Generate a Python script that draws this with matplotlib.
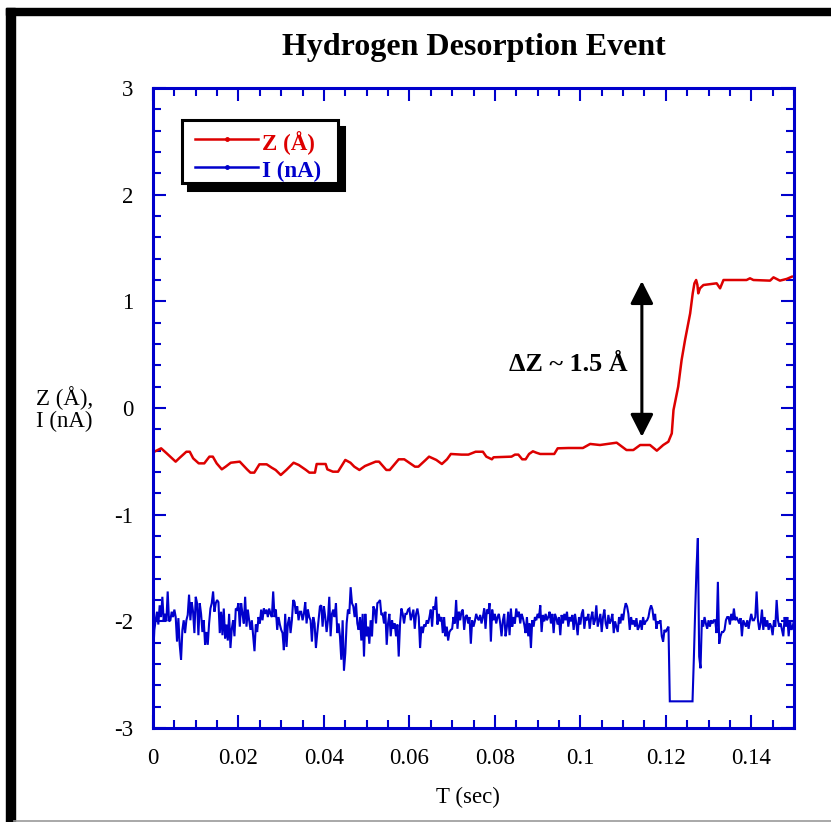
import matplotlib
matplotlib.use("Agg")
import matplotlib.pyplot as plt
import numpy as np
from matplotlib.lines import Line2D
from matplotlib.patches import Rectangle
from matplotlib.ticker import MultipleLocator, FuncFormatter

plt.rcParams["font.family"] = ["Liberation Serif", "DejaVu Serif"]
plt.rcParams["axes.unicode_minus"] = False

BLUE = "#0000CC"
RED = "#DD0000"

title = "Hydrogen Desorption Event"
x_label = "T (sec)"
y_label = "Z (\u00c5),\nI (nA)"
series_names = ["Z (\u00c5)", "I (nA)"]
series_colors = [RED, BLUE]
delta_label = "\u0394Z ~ 1.5 \u00c5"

# tip height Z (Angstrom)
z_t = [0.0003, 0.0019, 0.0032, 0.0053, 0.0061, 0.0078, 0.0086, 0.0094, 0.0107, 0.0120,
       0.0132, 0.0140, 0.0149, 0.0161, 0.0170, 0.0182, 0.0203, 0.0220, 0.0228, 0.0237,
       0.0249, 0.0266, 0.0278, 0.0287, 0.0299, 0.0312, 0.0329, 0.0341, 0.0358, 0.0366,
       0.0379, 0.0383, 0.0404, 0.0408, 0.0421, 0.0433, 0.0450, 0.0462, 0.0471, 0.0483,
       0.0496, 0.0521, 0.0529, 0.0546, 0.0554, 0.0575, 0.0588, 0.0613, 0.0621, 0.0638,
       0.0646, 0.0663, 0.0676, 0.0688, 0.0697, 0.0722, 0.0738, 0.0755, 0.0772, 0.0780,
       0.0793, 0.0797, 0.0839, 0.0847, 0.0855, 0.0864, 0.0872, 0.0880, 0.0889, 0.0897,
       0.0906, 0.0939, 0.0947, 0.0972, 0.1006, 0.1023, 0.1039,
       0.1046, 0.1085, 0.1108, 0.1124, 0.1140, 0.1163, 0.1179, 0.1194, 0.1206, 0.1214,
       0.1218, 0.1229, 0.1237, 0.1245, 0.1257, 0.1263, 0.1267, 0.1271, 0.1274, 0.1276,
       0.1280, 0.1288, 0.1319, 0.1327, 0.1335, 0.1389, 0.1397, 0.1405, 0.1444, 0.1452,
       0.1467, 0.1483, 0.1495]
z_vals = [-0.41, -0.378, -0.425, -0.503, -0.472, -0.41, -0.41, -0.472, -0.519, -0.519,
          -0.456, -0.456, -0.519, -0.575, -0.55, -0.513, -0.503, -0.575, -0.606, -0.606,
          -0.528, -0.528, -0.56, -0.581, -0.628, -0.581, -0.513, -0.534, -0.581, -0.606,
          -0.606, -0.525, -0.525, -0.575, -0.597, -0.597, -0.487, -0.513, -0.55, -0.581,
          -0.544, -0.503, -0.503, -0.581, -0.581, -0.481, -0.481, -0.55, -0.55, -0.487,
          -0.456, -0.487, -0.525, -0.481, -0.431, -0.437, -0.437, -0.41, -0.41, -0.456,
          -0.481, -0.462, -0.456, -0.437, -0.437, -0.481, -0.481, -0.431, -0.406, -0.419,
          -0.431, -0.431, -0.378, -0.375, -0.375, -0.337, -0.344,
          -0.347, -0.325, -0.394, -0.394, -0.347, -0.347, -0.400, -0.347, -0.316, -0.238,
          -0.019, 0.200, 0.450, 0.637, 0.887, 1.075, 1.169, 1.200, 1.153, 1.075,
          1.122, 1.153, 1.169, 1.122, 1.200, 1.200, 1.216, 1.200, 1.194, 1.225,
          1.194, 1.210, 1.231]

# tunnel current I (nA), one reading every 0.3125 ms
i_dt = 0.0003125
i_vals = [
    -2.35, -2.08, -1.99, -1.91, -2.03, -1.85, -1.96, -1.77, -1.99, -1.93,
    -2.00, -1.72, -2.00, -1.99, -1.91, -1.96, -1.89, -1.96, -2.19, -1.97,
    -2.22, -2.36, -2.08, -1.99, -2.11, -1.99, -1.94, -1.75, -1.99, -1.82,
    -1.91, -2.11, -1.77, -1.83, -2.13, -1.83, -1.93, -2.10, -1.99, -2.22,
    -2.10, -2.22, -2.02, -1.88, -1.83, -1.72, -1.91, -1.83, -1.80, -1.82,
    -2.11, -1.91, -2.13, -1.88, -2.16, -2.03, -2.18, -1.93, -2.25, -2.07,
    -1.99, -2.14, -1.88, -1.89, -1.83, -2.05, -1.83, -1.93, -2.02, -1.77,
    -2.05, -1.89, -1.99, -2.08, -1.99, -2.13, -2.28, -2.03, -2.10, -1.96,
    -2.02, -1.89, -1.99, -1.88, -1.93, -1.89, -1.96, -1.88, -1.93, -1.96,
    -1.72, -1.96, -1.89, -2.08, -1.96, -2.03, -2.08, -2.11, -2.27, -1.93,
    -2.24, -2.02, -1.96, -2.11, -1.99, -1.80, -1.82, -1.93, -1.86, -1.99,
    -1.91, -1.91, -1.99, -1.93, -1.82, -2.02, -1.89, -1.96, -1.99, -2.19,
    # 0.0375 s ->
    -1.96, -2.02, -2.25, -2.11, -1.99, -1.86, -1.85, -2.05, -1.86, -1.96,
    -2.10, -1.99,
    -1.77, -2.14, -1.93, -1.89, -1.96, -1.83, -2.11, -2.02, -2.14, -2.36,
    -1.99, -2.46, -2.30, -2.02, -1.89, -1.93, -1.68, -1.83, -1.86, -1.96,
    -1.83, -2.02, -2.08, -1.96, -2.18, -1.93, -2.33, -1.93, -2.14, -2.05,
    -2.21, -1.99, -2.14, -1.86, -1.89, -2.02, -1.83, -1.82, -1.80, -1.94,
    -1.93, -2.02, -1.91, -2.22, -2.02, -1.93, -2.14, -1.99, -2.07, -2.02,
    -2.14, -2.03, -2.33, -2.02, -1.88, -1.93, -2.02, -1.93, -1.93, -1.89,
    -1.88, -1.99, -1.94, -1.89, -2.07, -1.93, -1.88, -1.96, -2.25, -2.05,
    -2.11, -2.03, -2.05, -1.99, -2.02, -1.96, -1.89, -2.05, -1.86, -1.89,
    -1.77, -2.03, -1.93, -2.00, -1.96, -2.11, -1.96, -2.14, -2.05, -2.18,
    -2.10, -2.08, -2.07, -1.96, -2.02, -1.80, -2.07, -1.91, -1.99, -1.91,
    -1.89, -2.08, -1.96, -1.94, -2.02, -1.96, -2.21, -1.99, -2.05, -2.00,
    # 0.0756 s ->
    -1.93, -1.97, -1.99, -1.94, -2.02, -1.96, -1.88, -2.07, -1.89, -1.93,
    -1.83, -2.19, -1.89, -1.99, -1.93, -2.02, -1.96, -1.93, -2.02, -2.14,
    -1.99, -1.93, -2.14, -2.05, -1.91, -2.13, -1.88, -2.05, -1.96, -2.02,
    -1.88, -1.96, -1.91, -2.02, -1.93, -1.97, -2.03, -2.11, -1.96, -2.14,
    -2.02, -2.25, -1.99, -2.05, -1.96, -1.99, -1.93, -1.97, -1.85, -2.10,
    -1.94, -2.00, -1.93, -1.99, -1.96, -1.91, -2.02, -1.93, -2.11, -1.93,
    -1.97, -2.03, -1.96, -2.13, -1.94, -2.02, -1.93, -1.99, -1.91, -2.05,
    -1.96, -2.00, -1.94, -2.08, -1.93, -2.02, -2.13, -1.96, -2.03, -1.93,
    -1.89, -2.07, -1.96, -1.99, -1.93, -2.07, -1.97, -1.91, -2.03, -1.99,
    -1.85, -2.05, -1.99, -1.93, -2.10, -1.96, -1.89, -2.02, -2.07, -1.94,
    -2.02, -1.99, -1.93, -2.11, -2.00, -2.05, -2.10, -1.96, -2.02, -1.93,
    -1.99, -1.89, -1.83, -1.86, -1.93, -2.08, -1.96, -2.03, -1.99,
    # 0.1128 s ->
    -2.05, -1.97, -2.08, -2.05, -1.99, -2.08, -1.96, -2.03, -2.00, -1.99,
    -1.96, -1.89, -1.85, -1.89, -1.99, -1.93, -2.07, -2.00, -2.02, -1.99,
    -2.14, -2.19, -2.08, -2.10, -2.07, -2.05,
    # saturated while the tip retracts
    -2.75, -2.75, -2.75, -2.75, -2.75, -2.75, -2.75, -2.75, -2.75, -2.75,
    -2.75, -2.75, -2.75, -2.75, -2.75, -2.75, -2.75, -2.75,
    -2.35, -1.90, -1.50, -1.22, -2.33, -2.44, -1.99, -2.05,
    -1.96, -2.02, -2.07, -1.99, -2.05, -1.99, -2.02, -1.99, -1.99, -2.11,
    -1.63, -2.21, -2.14, -2.10, -2.10, -2.08, -1.99, -1.96, -1.96, -2.03,
    -1.93, -1.99, -1.88, -1.99, -1.96, -1.99, -2.02, -1.97, -2.14, -1.99,
    -2.02, -2.05, -1.99, -2.07, -1.99, -1.93, -1.99, -1.99, -1.96, -1.72,
    -1.99, -2.08, -2.02, -1.89, -2.08, -1.96, -2.05, -1.99, -2.08, -2.02,
    -2.05, -2.13, -1.99, -2.05, -1.80, -1.99, -2.05, -2.02, -2.08, -2.14,
    -1.96, -2.05, -1.96, -2.14, -1.99, -2.08, -2.05, -1.99,
]
i_t = np.arange(len(i_vals)) * i_dt

arrow_t = 0.1144
arrow_span = (-0.27, 1.19)

W, H = 831, 822
fig = plt.figure(figsize=(W / 100, H / 100), dpi=100)
ax = fig.add_axes([153 / W, 1 - 728 / H, 641 / W, 640 / H])

ax.plot(i_t, i_vals, color=BLUE, lw=1.5, solid_joinstyle="miter")
ax.plot(z_t, z_vals, color=RED, lw=1.8)

ax.set_xlim(0, 0.15)
ax.set_ylim(-3, 3)
ax.xaxis.set_major_locator(MultipleLocator(0.02))
ax.xaxis.set_minor_locator(MultipleLocator(0.005))
ax.yaxis.set_major_locator(MultipleLocator(1))
ax.yaxis.set_minor_locator(MultipleLocator(0.2))
fmt = FuncFormatter(lambda v, p: f"{v:g}")
ax.xaxis.set_major_formatter(fmt)
ax.yaxis.set_major_formatter(fmt)

ax.tick_params(which="both", direction="in", top=True, right=True,
               color=BLUE, width=1.5, labelsize=16.5)
ax.tick_params(axis="x", pad=14.5)
ax.tick_params(axis="y", pad=14)
ax.tick_params(which="major", length=9.4)
ax.tick_params(which="minor", length=5.5)
for sp in ax.spines.values():
    sp.set_color(BLUE)
    sp.set_linewidth(2.2)

# double arrow marking the jump in Z
ax.annotate("", xy=(arrow_t, arrow_span[1]), xytext=(arrow_t, arrow_span[0]),
            arrowprops=dict(arrowstyle="<|-|>,head_length=0.55,head_width=0.28",
                            mutation_scale=25, lw=2.2, color="black",
                            shrinkA=0, shrinkB=0))
ax.text(0.0971, 0.41, delta_label, ha="center", va="center",
        fontsize=18.8, fontweight="bold")


# legend box with a hard black drop shadow, drawn in axes fraction
def ax_px(px, py):
    return (px - 153) / 641, 1 - (py - 88) / 640


bx0, by0 = ax_px(182, 183)
bx1, by1 = ax_px(338, 120)
sx, sy = ax_px(188, 190)
ax.add_patch(Rectangle((sx, sy), bx1 - bx0, by1 - by0, transform=ax.transAxes,
                       facecolor="black", edgecolor="black", lw=2.2, zorder=5,
                       clip_on=False))
ax.add_patch(Rectangle((bx0, by0), bx1 - bx0, by1 - by0, transform=ax.transAxes,
                       facecolor="white", edgecolor="black", lw=2.2, zorder=6,
                       clip_on=False))
for k, (name, col) in enumerate(zip(series_names, series_colors)):
    x0, ly = ax_px(195, 139 + 28 * k)
    x1, _ = ax_px(258, 139)
    xm, _ = ax_px(227, 139)
    tx, ty = ax_px(262, 150 + 27 * k)
    ax.plot([x0, x1], [ly, ly], color=col, lw=1.8, transform=ax.transAxes,
            zorder=7, clip_on=False)
    ax.plot([xm], [ly], "o", color=col, ms=2.5, transform=ax.transAxes,
            zorder=7, clip_on=False)
    ax.text(tx, ty, name, color=col, fontsize=16.5, fontweight="bold",
            ha="left", va="baseline", transform=ax.transAxes, zorder=7)

fig.text(473.5 / W, 1 - 47 / H, title, ha="center", va="center",
         fontsize=23, fontweight="bold")
fig.text(468 / W, 1 - 797 / H, x_label, ha="center", va="center", fontsize=16.5)
fig.text(36 / W, 1 - 409 / H, y_label, ha="left", va="center", fontsize=16.5,
         linespacing=1.0)

# page frame: thick black edge top and left, thin grey line at the bottom
fig.add_artist(Rectangle((5.5 / W, 0), 9 / W, (H - 8) / H,
                         transform=fig.transFigure, color="black"))
fig.add_artist(Rectangle((5.5 / W, 1 - 15 / H), (W - 5.5) / W, 7 / H,
                         transform=fig.transFigure, color="black"))
fig.add_artist(Line2D([14 / W, 1], [1 - 820.5 / H] * 2, color="#999999", lw=1.2,
                      transform=fig.transFigure))

fig.savefig("out.png", dpi=100)
